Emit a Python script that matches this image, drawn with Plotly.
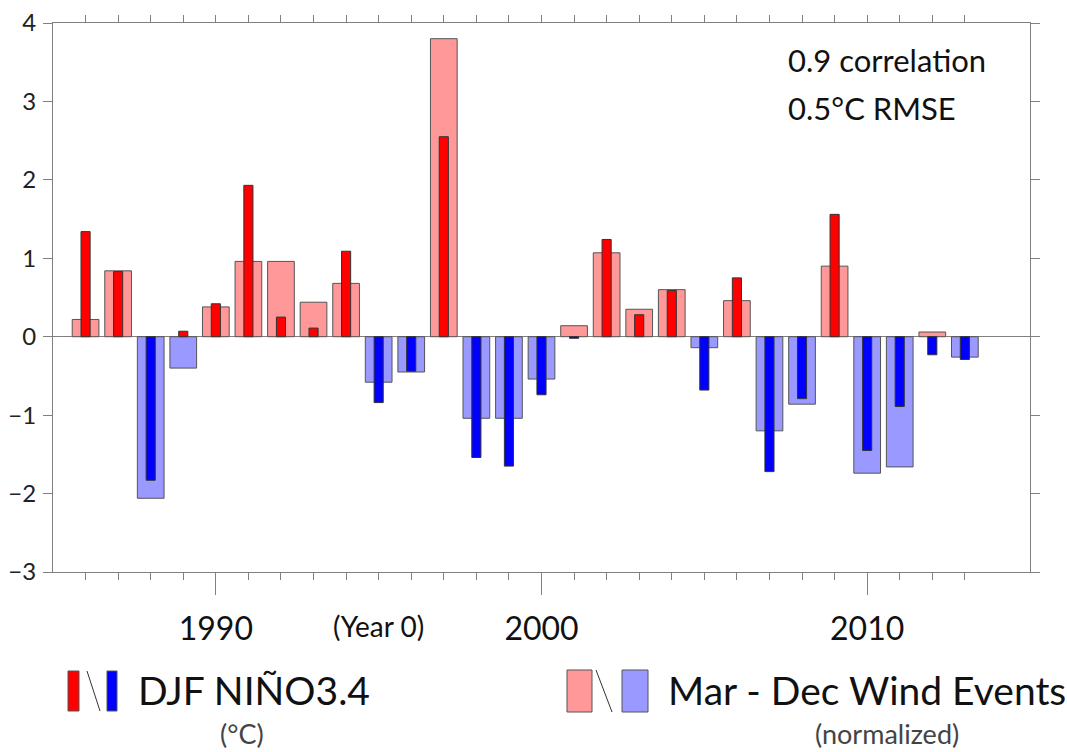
import plotly.graph_objects as go

# ---- data ----
years = list(range(1986, 2014))
wind_events = [0.22, 0.84, -2.06, -0.40, 0.38, 0.96, 0.96, 0.44, 0.68, -0.58,
               -0.45, 3.80, -1.04, -1.04, -0.54, 0.14, 1.07, 0.35, 0.60, -0.14,
               0.46, -1.20, -0.86, 0.90, -1.74, -1.66, 0.06, -0.26]
nino34 = [1.34, 0.83, -1.83, 0.07, 0.42, 1.93, 0.25, 0.11, 1.09, -0.84,
          -0.44, 2.55, -1.54, -1.65, -0.74, -0.02, 1.24, 0.28, 0.59, -0.68,
          0.75, -1.72, -0.79, 1.56, -1.45, -0.89, -0.23, -0.29]
major_years = [1990, 2000, 2010]
major_labels = ["1990", "2000", "2010"]
year0 = 1995

FONT = "Lato"
W, H = 1067, 752
ML, MR, MT, MB = 53, 37, 23, 180
PW, PH = W - ML - MR, H - MT - MB

def px(x):
    return (x - ML) / PW

def py(y):
    return (H - MB - y) / PH

LIGHT_RED, LIGHT_BLUE = "#FF9999", "#9999FF"
DARK_RED, DARK_BLUE = "#FF0000", "#0000FF"
EDGE = "#555555"
AXIS = "#808080"

fig = go.Figure()
fig.add_trace(go.Bar(
    x=years, y=wind_events, width=0.82,
    marker=dict(color=[LIGHT_RED if v >= 0 else LIGHT_BLUE for v in wind_events],
                line=dict(color=EDGE, width=1)),
    showlegend=False, hoverinfo="x+y"))
fig.add_trace(go.Bar(
    x=years, y=nino34, width=0.28,
    marker=dict(color=[DARK_RED if v >= 0 else DARK_BLUE for v in nino34],
                line=dict(color="#333333", width=1)),
    showlegend=False, hoverinfo="x+y"))

fig.update_layout(
    width=W, height=H,
    margin=dict(l=ML, r=MR, t=MT, b=MB, autoexpand=False),
    paper_bgcolor="white", plot_bgcolor="white",
    barmode="overlay",
    font=dict(family=FONT, color="#111111"),
    xaxis=dict(range=[1985, 2015], tickvals=years, ticks="outside", ticklen=7,
               tickcolor=AXIS, showticklabels=False, showline=True,
               linecolor=AXIS, linewidth=1, mirror="ticks", showgrid=False,
               zeroline=False, automargin=False),
    xaxis2=dict(range=[1985, 2015], overlaying="x", anchor="y", side="bottom",
                tickvals=major_years, ticktext=major_labels, ticks="outside",
                ticklen=22, tickcolor=AXIS, showline=False, showgrid=False,
                zeroline=False, tickfont=dict(size=32, family=FONT, color="#111111"),
                ticklabelstandoff=7, automargin=False),
    yaxis=dict(range=[-3, 4], dtick=1, tick0=0, ticks="outside", ticklen=9,
               tickcolor=AXIS, showline=True, linecolor=AXIS, linewidth=1,
               mirror="ticks", showgrid=False, zeroline=True,
               zerolinecolor=AXIS, zerolinewidth=1,
               tickfont=dict(size=24, family=FONT, color="#222222"),
               ticklabelstandoff=2, automargin=False),
)
# invisible trace to activate xaxis2
fig.add_trace(go.Scatter(x=[1985], y=[0], xaxis="x2", mode="markers",
                         marker=dict(opacity=0), showlegend=False, hoverinfo="skip"))

ann = []
ann.append(dict(x=year0, xref="x", y=py(626), yref="paper", text="(Year 0)",
                showarrow=False, font=dict(size=28, family=FONT, color="#111111"),
                xanchor="center", yanchor="middle"))
ann.append(dict(x=px(786), xref="paper", y=py(60), yref="paper", text="0.9 correlation",
                showarrow=False, font=dict(size=31, family=FONT, color="#111111"),
                xanchor="left", yanchor="middle"))
ann.append(dict(x=px(786), xref="paper", y=py(108), yref="paper", text="0.5°C RMSE",
                showarrow=False, font=dict(size=31, family=FONT, color="#111111"),
                xanchor="left", yanchor="middle"))
# legend texts
ann.append(dict(x=px(136), xref="paper", y=py(690), yref="paper", text="DJF NIÑO3.4",
                showarrow=False, font=dict(size=39, family=FONT, color="#111111"),
                xanchor="left", yanchor="middle"))
ann.append(dict(x=px(242), xref="paper", y=py(734), yref="paper", text="(°C)",
                showarrow=False, font=dict(size=27, family=FONT, color="#444444"),
                xanchor="center", yanchor="middle"))
ann.append(dict(x=px(666), xref="paper", y=py(690), yref="paper", text="Mar - Dec Wind Events",
                showarrow=False, font=dict(size=39, family=FONT, color="#111111"),
                xanchor="left", yanchor="middle"))
ann.append(dict(x=px(887), xref="paper", y=py(734), yref="paper", text="(normalized)",
                showarrow=False, font=dict(size=27, family=FONT, color="#444444"),
                xanchor="center", yanchor="middle"))

shapes = []
def rect(x0, x1, y0, y1, color):
    shapes.append(dict(type="rect", xref="paper", yref="paper",
                       x0=px(x0), x1=px(x1), y0=py(y1), y1=py(y0),
                       fillcolor=color, line=dict(color=EDGE, width=1)))
def slash(x0, x1, y0, y1):
    shapes.append(dict(type="line", xref="paper", yref="paper",
                       x0=px(x0), x1=px(x1), y0=py(y0), y1=py(y1),
                       line=dict(color="#333333", width=1)))
rect(68, 79, 671, 711, DARK_RED)
slash(87, 100, 671, 711)
rect(107, 117, 671, 711, DARK_BLUE)
rect(567, 592, 670, 712, LIGHT_RED)
slash(596, 612, 670, 712)
rect(622, 648, 670, 712, LIGHT_BLUE)

fig.update_layout(annotations=ann, shapes=shapes)
fig.write_html("out.html")
